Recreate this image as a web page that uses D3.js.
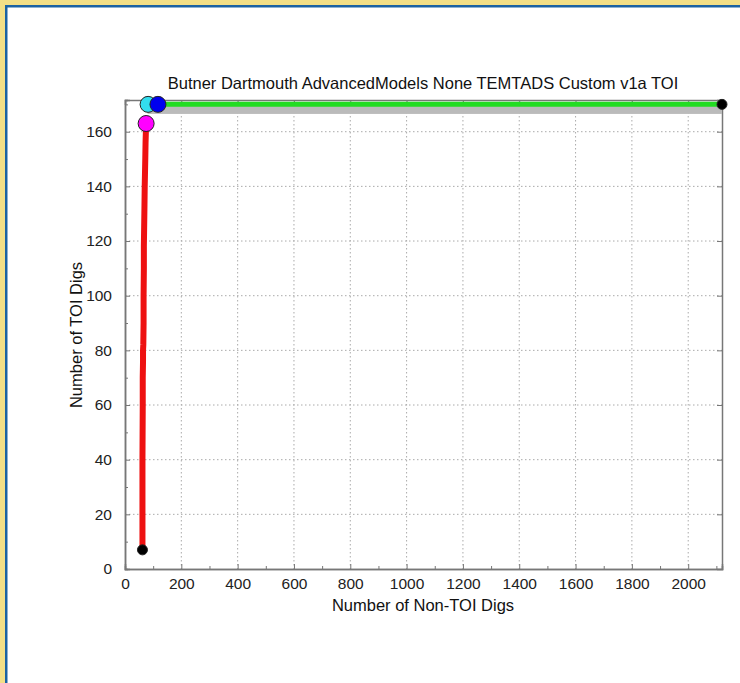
<!DOCTYPE html>
<html><head><meta charset="utf-8">
<script src="https://cdn.jsdelivr.net/npm/d3@7"></script>
<style>
html,body{margin:0;padding:0;background:#fff;}
svg{display:block;font-family:"Liberation Sans",Arial,sans-serif;}
</style></head>
<body>
<svg id="chart" width="740" height="683"></svg>
<script>
const title = "Butner Dartmouth AdvancedModels None TEMTADS Custom v1a TOI";
const xLabel = "Number of Non-TOI Digs";
const yLabel = "Number of TOI Digs";
const xTicks = [0,200,400,600,800,1000,1200,1400,1600,1800,2000];
const yTicks = [0,20,40,60,80,100,120,140,160];
// red ROC curve (non-TOI digs, TOI digs)
const redX = [62,62,62,63,63,64,64,65,66,66,67,67,68,69,70,71,72,73,75];
const redY = [7,20,40,60,70,76,80,82,90,100,110,118,125,132,140,145,150,156,163];
// green segment
const greenX = [117,2120];
const greenY = [170,170];
// gray band
const grayX = [80,2120];
const grayY = [167.6,170];
// special markers
const markX = [62,75,82,117,2120];
const markY = [7,163,170,170,170];
const markFill = ["#000","#ff00ff","#33ddee","#0000ee","#000"];
const markR = [5,8,8,8,5];

const svg = d3.select("#chart");
// frame
svg.append("rect").attr("x",0).attr("y",0).attr("width",740).attr("height",683).attr("fill","#f2df87");
svg.append("rect").attr("x",5).attr("y",5).attr("width",740).attr("height",683).attr("fill","#1a62a3");
svg.append("rect").attr("x",7.5).attr("y",7.5).attr("width",740).attr("height",683).attr("fill","#fff");

const L=125,R=722,T=100,B=569;
const x = d3.scaleLinear().domain([0,2120]).range([L,R]);
const y = d3.scaleLinear().domain([0,171.6]).range([B,T]);
const FONT="'Liberation Sans',Arial,sans-serif";

const g = svg.append("g");
// grid
g.selectAll(".gx").data(xTicks.filter(d=>d>0)).enter().append("line")
 .attr("x1",d=>x(d)).attr("x2",d=>x(d)).attr("y1",T).attr("y2",B)
 .attr("stroke","#aaa").attr("stroke-width",1).attr("stroke-dasharray","1.5,2.5");
g.selectAll(".gy").data(yTicks.filter(d=>d>0)).enter().append("line")
 .attr("y1",d=>y(d)).attr("y2",d=>y(d)).attr("x1",L).attr("x2",R)
 .attr("stroke","#aaa").attr("stroke-width",1).attr("stroke-dasharray","1.5,2.5");

// axes
const axCol="#777";
const xb = g.append("g").attr("transform",`translate(0,${B})`)
 .call(d3.axisBottom(x).tickValues(xTicks).tickSize(-5).tickPadding(9).tickFormat(d3.format("d")));
const xbm = g.append("g").attr("transform",`translate(0,${B})`)
 .call(d3.axisBottom(x).tickValues(d3.range(100,2120,200)).tickSize(-3).tickFormat(""));
const yl = g.append("g").attr("transform",`translate(${L},0)`)
 .call(d3.axisLeft(y).tickValues(yTicks).tickSize(-5).tickPadding(13));
const ylm = g.append("g").attr("transform",`translate(${L},0)`)
 .call(d3.axisLeft(y).tickValues(d3.range(10,171,20)).tickSize(-3).tickFormat(""));
const yr = g.append("g").attr("transform",`translate(${R},0)`)
 .call(d3.axisRight(y).tickValues(yTicks).tickSize(-5).tickFormat(""));
const xt = g.append("g").attr("transform",`translate(0,${T})`)
 .call(d3.axisTop(x).tickValues(xTicks).tickSize(-5).tickFormat(""));
[xb,xbm,yl,ylm,yr,xt].forEach(a=>{
  a.selectAll("path").attr("stroke",axCol).attr("stroke-width",1.5);
  a.selectAll("line").attr("stroke",axCol);
  a.selectAll("text").attr("fill","#222").style("font-size","15.5px").style("font-family",FONT);
});

// gray band
g.append("rect").attr("x",x(grayX[0])).attr("width",x(grayX[1])-x(grayX[0]))
 .attr("y",y(grayY[1])).attr("height",y(grayY[0])-y(grayY[1])+3).attr("fill","#bbb");

// red line
const line = d3.line().x(d=>x(d[0])).y(d=>y(d[1]));
g.append("path").datum(redX.map((v,i)=>[v,redY[i]])).attr("d",line)
 .attr("fill","none").attr("stroke","#ee1111").attr("stroke-width",6).attr("stroke-linejoin","round");
// green line
g.append("path").datum(greenX.map((v,i)=>[v,greenY[i]])).attr("d",line)
 .attr("fill","none").attr("stroke","#22dd22").attr("stroke-width",5);

// markers
g.selectAll(".mk").data(markX.map((v,i)=>i)).enter().append("circle")
 .attr("cx",i=>x(markX[i])).attr("cy",i=>y(markY[i])).attr("r",i=>markR[i])
 .attr("fill",i=>markFill[i]).attr("stroke","#222").attr("stroke-width",1);

// title & labels
svg.append("text").attr("x",423).attr("y",89).attr("text-anchor","middle")
 .style("font-size","16.5px").attr("fill","#111").text(title);
svg.append("text").attr("x",423).attr("y",611).attr("text-anchor","middle")
 .style("font-size","16.5px").attr("fill","#111").text(xLabel);
svg.append("text").attr("transform","translate(82,335) rotate(-90)").attr("text-anchor","middle")
 .style("font-size","16.5px").attr("fill","#111").text(yLabel);
</script>
</body></html>
